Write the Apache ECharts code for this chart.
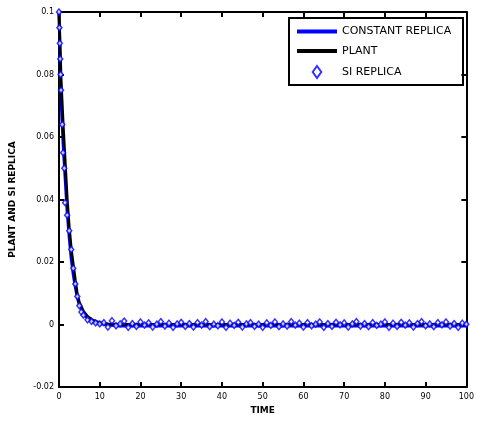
<!DOCTYPE html>
<html>
<head>
<meta charset="utf-8">
<script src="https://cdn.jsdelivr.net/npm/echarts@6/dist/echarts.min.js"></script>
<style>
  html, body { margin: 0; padding: 0; background: #fff; }
  #chart { width: 477px; height: 423px; }
</style>
</head>
<body>
<div id="chart"></div>
<script>
// curve samples
const lineTime = [0, 0.5, 1, 1.5, 2, 2.5, 3, 3.5, 4, 4.5, 5, 6, 7, 8, 9, 10, 12, 15, 20, 30, 40, 50, 60, 70, 80, 90, 100]
const plant = [0.1, 0.078, 0.064, 0.052, 0.04, 0.031, 0.024, 0.019, 0.014, 0.0095, 0.007, 0.0042, 0.0026, 0.0016, 0.001, 0.0006, 0.0002, 0, 0, 0, 0, 0, 0, 0, 0, 0, 0]
const constantReplica = [0.1, 0.072, 0.058, 0.047, 0.036, 0.028, 0.021, 0.016, 0.012, 0.0085, 0.0062, 0.0035, 0.002, 0.0012, 0.0007, 0.0003, -0.0002, -0.0005, -0.0005, -0.0005, -0.0005, -0.0005, -0.0005, -0.0005, -0.0005, -0.0005, -0.0005]

const siTime = [0, 0.1, 0.2, 0.3, 0.4, 0.5, 0.8, 1, 1.3, 1.5, 2, 2.5, 3, 3.5, 4, 4.5, 5, 5.5, 6, 7, 8, 9, 10,
  11, 12, 13, 14, 15, 16, 17, 18, 19, 20, 21, 22, 23, 24, 25, 26, 27, 28, 29, 30,
  31, 32, 33, 34, 35, 36, 37, 38, 39, 40, 41, 42, 43, 44, 45, 46, 47, 48, 49, 50,
  51, 52, 53, 54, 55, 56, 57, 58, 59, 60, 61, 62, 63, 64, 65, 66, 67, 68, 69, 70,
  71, 72, 73, 74, 75, 76, 77, 78, 79, 80, 81, 82, 83, 84, 85, 86, 87, 88, 89, 90,
  91, 92, 93, 94, 95, 96, 97, 98, 99, 100]
const siReplica = [0.1, 0.095, 0.09, 0.085, 0.08, 0.075, 0.064, 0.055, 0.05, 0.039, 0.035, 0.03, 0.024, 0.018, 0.013, 0.009, 0.006, 0.004, 0.003, 0.0015, 0.001, 0.0005, 0.0002,
  0.0006, -0.0008, 0.0012, -0.0004, 0.0002, 0.0011, -0.0009, 0.0003, -0.0006, 0.0008, -0.0002, 0.0005, -0.0008, 0.0001, 0.0009, -0.0005, 0.0004, -0.0009, 0.0002, 0.0007,
  -0.0006, 0.0003, -0.0008, 0.0006, -0.0002, 0.0009, -0.0007, 0.0001, -0.0004, 0.0008, -0.0009, 0.0004, -0.0003, 0.0007, -0.0008, 0.0002, 0.0006, -0.0006, 0.0001, -0.0009,
  0.0005, -0.0003, 0.0008, -0.0007, 0.0002, -0.0005, 0.0009, -0.0002, 0.0004, -0.0008, 0.0006, -0.0004, 0.0001, 0.0008, -0.0009, 0.0003, -0.0006, 0.0007, -0.0001, 0.0005,
  -0.0008, 0.0002, 0.0009, -0.0005, 0.0003, -0.0007, 0.0006, -0.0003, 0.0001, 0.0008, -0.0009, 0.0004, -0.0006, 0.0007, -0.0002, 0.0005, -0.0008, 0.0003, 0.0009, -0.0004,
  0.0002, -0.0007, 0.0006, -0.0001, 0.0008, -0.0005, 0.0003, -0.0009, 0.0004, 0.0001]

const xTicks = [0, 10, 20, 30, 40, 50, 60, 70, 80, 90, 100]

const pairs = (xs, ys) => xs.map((x, i) => [x, ys[i]])

const chart = echarts.init(document.getElementById('chart'))
const axisCommon = {
  axisLine: { show: true, onZero: false, lineStyle: { color: '#000', width: 2 } },
  axisTick: { show: true, inside: true, length: 5, lineStyle: { color: '#000', width: 2 } },
  splitLine: { show: false }
}
chart.setOption({
  animation: false,
  textStyle: { fontFamily: 'DejaVu Sans', color: '#000' },
  grid: { left: 59, right: 8, top: 12, bottom: 36 },
  legend: {
    orient: 'vertical',
    left: 295,
    top: 26,
    padding: 0,
    itemWidth: 40,
    itemHeight: 12,
    itemGap: 8.5,
    textStyle: { fontSize: 11, fontFamily: 'DejaVu Sans', color: '#000' },
    data: [
      { name: 'CONSTANT REPLICA', itemStyle: { opacity: 0 }, lineStyle: { width: 4 } },
      { name: 'PLANT', itemStyle: { opacity: 0 }, lineStyle: { width: 4 } },
      { name: 'SI REPLICA', icon: 'path://M5,0 L10,7 L5,14 L0,7 Z' }
    ]
  },
  graphic: [
    { type: 'rect', shape: { x: 289, y: 18, width: 174, height: 67 }, style: { fill: 'none', stroke: '#000', lineWidth: 2 }, z: 100 }
  ],
  xAxis: [
    Object.assign({}, axisCommon, {
      type: 'value', min: 0, max: 100, interval: 10,
      name: 'TIME', nameLocation: 'middle', nameGap: 18,
      nameTextStyle: { fontSize: 9, fontWeight: 'bold', color: '#000' },
      axisLabel: { fontSize: 8, margin: 6, color: '#000', formatter: v => xTicks.includes(v) ? String(v) : '' }
    }),
    Object.assign({}, axisCommon, {
      type: 'value', min: 0, max: 100, interval: 10, position: 'top',
      axisLabel: { show: false }
    })
  ],
  yAxis: [
    Object.assign({}, axisCommon, {
      type: 'value', min: -0.02, max: 0.1, interval: 0.02,
      name: 'PLANT AND SI REPLICA', nameLocation: 'middle', nameGap: 42,
      nameTextStyle: { fontSize: 9, fontWeight: 'bold', color: '#000' },
      axisLabel: { fontSize: 8, margin: 5, color: '#000', formatter: v => String(parseFloat(v.toFixed(2))) }
    }),
    Object.assign({}, axisCommon, {
      type: 'value', min: -0.02, max: 0.1, interval: 0.02, position: 'right',
      axisLabel: { show: false }
    })
  ],
  series: [
    {
      name: 'CONSTANT REPLICA', type: 'line', symbol: 'none',
      data: pairs(lineTime, constantReplica),
      lineStyle: { color: '#0000ff', width: 3 }, itemStyle: { color: '#0000ff' }, z: 2
    },
    {
      name: 'PLANT', type: 'line', symbol: 'none',
      data: pairs(lineTime, plant),
      lineStyle: { color: '#000', width: 3 }, itemStyle: { color: '#000' }, z: 3
    },
    {
      name: 'SI REPLICA', type: 'scatter', symbol: 'diamond', symbolSize: [5, 6],
      data: pairs(siTime, siReplica),
      itemStyle: { color: '#fff', borderColor: '#0000ff', borderWidth: 1.5 }, z: 4
    }
  ]
})
</script>
</body>
</html>
